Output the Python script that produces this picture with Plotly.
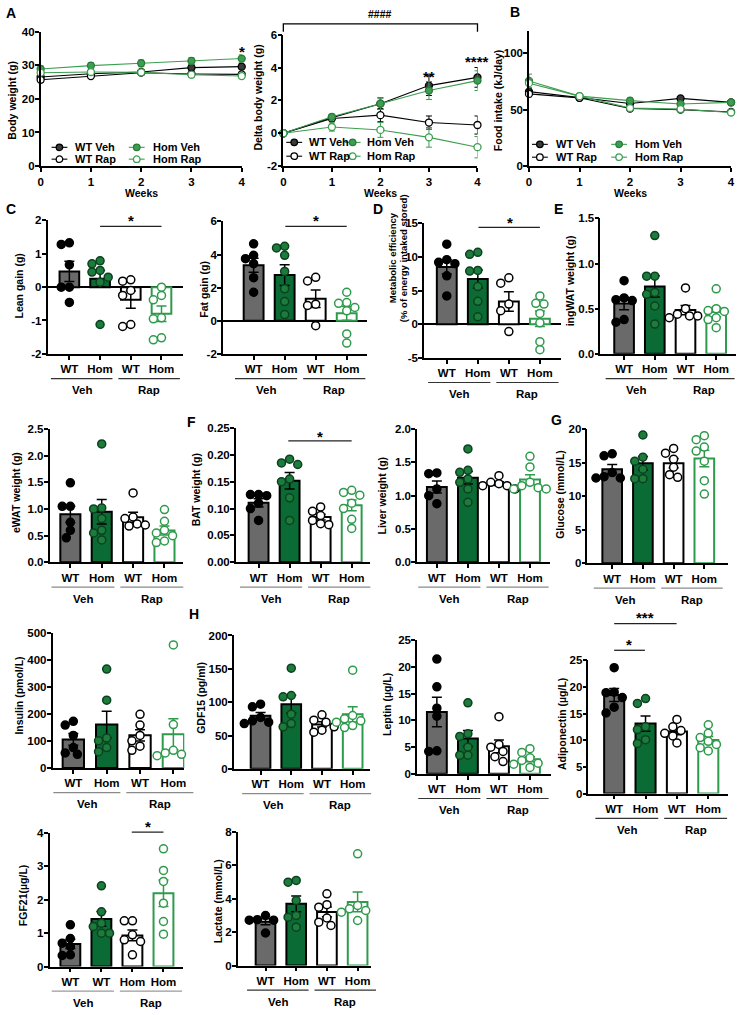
import numpy as np
import plotly.graph_objects as go

W, H = 742, 1015

# ---------------- data ----------------
weeks = [0, 1, 2, 3, 4]
line_series = ["WT Veh", "WT Rap", "Hom Veh", "Hom Rap"]

bw_wt_veh = [26.5, 27.5, 28.0, 29.3, 29.6]
bw_wt_rap = [25.7, 26.8, 27.8, 27.4, 27.3]
bw_hom_veh = [28.9, 29.9, 30.6, 31.3, 32.0]
bw_hom_rap = [27.8, 28.0, 27.9, 27.2, 26.8]
bw_wt_veh_sem = [0.8, 0.8, 0.7, 0.9, 0.9]
bw_wt_rap_sem = [0.7, 0.7, 0.7, 0.7, 0.7]
bw_hom_veh_sem = [0.9, 0.9, 1.0, 1.0, 1.1]
bw_hom_rap_sem = [0.8, 0.8, 0.8, 0.8, 0.8]

dbw_wt_veh = [0.0, 0.95, 1.8, 2.9, 3.4]
dbw_wt_rap = [0.0, 0.9, 1.1, 0.65, 0.5]
dbw_hom_veh = [0.0, 1.0, 1.8, 2.6, 3.2]
dbw_hom_rap = [0.0, 0.38, 0.2, -0.25, -0.85]
dbw_wt_veh_sem = [0.0, 0.12, 0.35, 0.6, 0.6]
dbw_wt_rap_sem = [0.0, 0.12, 0.4, 0.4, 0.55]
dbw_hom_veh_sem = [0.0, 0.15, 0.35, 0.55, 0.6]
dbw_hom_rap_sem = [0.0, 0.25, 0.45, 0.6, 0.65]

fi_wt_veh = [66.0, 60.5, 55.5, 60.0, 56.5]
fi_wt_rap = [64.0, 60.5, 51.0, 50.0, 48.0]
fi_hom_veh = [75.5, 62.0, 58.0, 55.0, 56.5]
fi_hom_rap = [73.5, 62.0, 51.5, 50.5, 47.5]
fi_wt_veh_sem = [2.5, 1.5, 2.0, 1.5, 1.5]
fi_wt_rap_sem = [2.5, 1.5, 1.5, 1.5, 1.5]
fi_hom_veh_sem = [6.0, 1.5, 2.5, 2.0, 1.5]
fi_hom_rap_sem = [4.0, 1.5, 2.0, 1.5, 1.5]

# bar groups: WT Veh, Hom Veh, WT Rap, Hom Rap
tick_labels = ["WT", "Hom", "WT", "Hom"]
tick_labels_fgf21 = ["WT", "WT", "Hom", "Hom"]
treatments = ["Veh", "Rap"]

lean_gain = [[1.28, 1.33, 0.67, 0.0, 0.0, -0.46],
             [0.79, 0.70, 0.50, 0.45, 0.30, 0.15, -1.12],
             [0.18, 0.22, -0.10, -0.25, -1.18, -1.12],
             [0.0, -0.25, -0.38, -0.92, -0.95, -1.58, -1.52]]
fat_gain = [[4.65, 3.95, 3.75, 3.45, 2.6, 1.72],
            [4.5, 4.4, 3.95, 2.98, 1.93, 1.16, 0.37],
            [2.4, 2.62, 1.0, 0.92, -0.3],
            [1.72, 1.1, 1.05, 0.8, 0.6, -0.8, -1.35]]
met_eff = [[11.9, 9.6, 9.2, 9.0, 7.2, 4.2],
           [10.7, 10.4, 8.0, 7.9, 5.6, 3.4, 1.1],
           [6.1, 6.9, 3.0, 2.0, -1.1],
           [4.2, 3.1, 3.0, 1.6, 0.2, -2.6, -3.8]]
ingwat = [[0.81, 0.62, 0.60, 0.59, 0.38, 0.35],
          [1.31, 0.86, 0.86, 0.68, 0.66, 0.53, 0.33],
          [0.73, 0.50, 0.44, 0.42, 0.40, 0.42],
          [0.72, 0.50, 0.48, 0.47, 0.40, 0.38, 0.29]]
ewat = [[1.49, 1.05, 1.05, 0.75, 0.60, 0.46],
        [2.22, 1.02, 1.00, 0.82, 0.60, 0.55, 0.42],
        [1.30, 0.85, 0.82, 0.72, 0.70, 0.68],
        [0.99, 0.77, 0.60, 0.55, 0.50, 0.40, 0.37]]
bat = [[0.126, 0.126, 0.124, 0.110, 0.100, 0.078],
       [0.192, 0.182, 0.185, 0.155, 0.150, 0.120, 0.078],
       [0.103, 0.095, 0.087, 0.078, 0.072, 0.070],
       [0.134, 0.130, 0.125, 0.110, 0.100, 0.080, 0.063]]
liver = [[1.34, 1.33, 1.10, 1.00, 0.88],
         [1.70, 1.38, 1.35, 1.25, 1.20, 1.10, 0.90],
         [1.30, 1.20, 1.18, 1.15, 1.15, 1.10],
         [1.59, 1.43, 1.20, 1.15, 1.12, 1.10, 1.10]]
glucose = [[16.3, 16.0, 13.5, 12.9, 12.7, 12.7],
           [19.1, 15.8, 15.2, 14.0, 12.6, 12.6],
           [17.1, 16.4, 15.5, 14.3, 13.2, 12.8],
           [19.0, 18.4, 17.3, 16.7, 15.2, 12.3, 10.3]]
insulin = [[172, 158, 120, 75, 55, 50],
           [365, 250, 110, 100, 75, 60],
           [198, 158, 120, 100, 80, 65],
           [454, 160, 65, 55, 50, 45, 40]]
gdf15 = [[97, 93, 77, 72, 70, 68],
         [151, 110, 108, 82, 68, 63],
         [81, 73, 70, 63, 58, 55],
         [148, 80, 75, 72, 70, 65, 62]]
leptin = [[21.5, 16.3, 12.3, 10.8, 4.2, 4.3],
          [13.3, 7.5, 7.0, 5.0, 3.5, 3.5],
          [10.7, 5.5, 5.0, 4.2, 3.2, 2.3],
          [4.7, 4.0, 3.0, 2.5, 2.0, 1.8, 1.2]]
adiponectin = [[23.6, 19.0, 18.9, 18.0, 16.2, 15.1],
               [17.8, 16.9, 12.5, 12.0, 10.1, 9.4],
               [13.9, 12.5, 11.8, 11.3, 10.8, 9.5],
               [12.9, 11.3, 10.5, 9.8, 9.2, 8.6, 8.0]]
fgf21 = [[1.25, 0.84, 0.70, 0.60, 0.33, 0.35],
         [2.42, 1.64, 1.30, 1.20, 1.00, 1.00],
         [1.37, 1.37, 0.95, 0.80, 0.75, 0.35],
         [3.53, 2.88, 2.55, 1.90, 1.35, 0.97]]
lactate = [[3.0, 2.75, 2.72, 2.72, 1.95],
           [5.1, 5.0, 3.9, 3.0, 2.9, 2.3],
           [4.3, 3.65, 3.5, 2.85, 2.6, 2.4],
           [6.7, 3.6, 3.4, 3.3, 3.2, 2.7]]

# ---------------- styles ----------------
GRAY = '#6a6a6a'
DKGREEN = '#0b6b34'
GREEN = '#2e9a4c'
LGREEN = '#3c9e50'
bar_fill = [GRAY, DKGREEN, 'white', 'white']
bar_edge = ['black', 'black', 'black', GREEN]
dot_fill = ['black', '#1c7c3c', 'white', 'white']
dot_edge = ['black', '#0d4020', 'black', GREEN]

FONT = "Liberation Sans, Arial, Helvetica, sans-serif"

def px(x):
    return x / W

def py(y):
    return 1 - y / H

traces = []
layout = dict(width=W, height=H, margin=dict(l=0, r=0, t=0, b=0, pad=0),
              paper_bgcolor='white', plot_bgcolor='white', showlegend=False,
              barmode='overlay',
              font=dict(family=FONT, size=11, color='black', weight='bold'))
annotations = []
shapes = []


def ann(x, y, text, size=11, angle=0, xanchor='center', yanchor='middle', color='black'):
    annotations.append(dict(x=px(x), y=py(y), xref='paper', yref='paper', text=text,
                            showarrow=False, textangle=angle, xanchor=xanchor,
                            yanchor=yanchor, font=dict(size=size, color=color, family=FONT, weight='bold')))


def hline(x0, x1, y, color='black', width=1.5):
    shapes.append(dict(type='line', xref='paper', yref='paper', x0=px(x0), x1=px(x1),
                       y0=py(y), y1=py(y), line=dict(color=color, width=width)))


def star(x, y, text, size=15):
    ann(x, y + 0.24 * size, text, size=size)


def axes(n, L, R, top, bot, xr, yr, xt, xtt, yt, ytt, zero=False):
    nm = '' if n == 1 else str(n)
    common = dict(showline=True, linecolor='black', linewidth=1.5, ticks='outside',
                  ticklen=4, tickwidth=1.5, tickcolor='black', showgrid=False,
                  fixedrange=True, tickfont=dict(size=11.5, family=FONT, weight='bold'))
    layout['xaxis' + nm] = dict(domain=[px(L), px(R)], range=xr, anchor='y' + nm,
                                tickvals=xt, ticktext=xtt, zeroline=False, **common)
    layout['yaxis' + nm] = dict(domain=[py(bot), py(top)], range=yr, anchor='x' + nm,
                                tickvals=yt, ticktext=ytt, zeroline=zero, ticklabelstandoff=-2,
                                zerolinecolor='black', zerolinewidth=1.5, **common)
    return 'x' + nm, 'y' + nm


# ---------------- line panels ----------------
line_styles = [
    dict(color='black', fill='#3a3a3a', edge='black'),      # WT Veh
    dict(color='black', fill='white', edge='black'),        # WT Rap
    dict(color=LGREEN, fill=LGREEN, edge='#2a7a3a'),        # Hom Veh
    dict(color=LGREEN, fill='white', edge=LGREEN),          # Hom Rap
]

line_panels = [
    dict(n=1, L=38, R=241, top=26, bot=162, yr=[0, 40], yt=[0, 10, 20, 30, 40],
         vals=[bw_wt_veh, bw_wt_rap, bw_hom_veh, bw_hom_rap],
         sems=[bw_wt_veh_sem, bw_wt_rap_sem, bw_hom_veh_sem, bw_hom_rap_sem],
         title="Body weight (g)", tx=9, ty=95,
         leg=dict(c1=57, t1=71, c2=135, t2=149, r1=143, r2=155)),
    dict(n=2, L=283, R=479, top=29, bot=162, yr=[-2, 6], yt=[-2, 0, 2, 4, 6],
         vals=[dbw_wt_veh, dbw_wt_rap, dbw_hom_veh, dbw_hom_rap],
         sems=[dbw_wt_veh_sem, dbw_wt_rap_sem, dbw_hom_veh_sem, dbw_hom_rap_sem],
         title="Delta body weight (g)", tx=257, ty=93,
         leg=dict(c1=294, t1=307, c2=353, t2=365, r1=138, r2=152)),
    dict(n=3, L=531, R=735, top=25, bot=162, yr=[0, 120], yt=[0, 50, 100],
         vals=[fi_wt_veh, fi_wt_rap, fi_hom_veh, fi_hom_rap],
         sems=[fi_wt_veh_sem, fi_wt_rap_sem, fi_hom_veh_sem, fi_hom_rap_sem],
         title="Food intake (kJ/day)", tx=500, ty=95,
         leg=dict(c1=542, t1=556, c2=622, t2=636, r1=140, r2=153)),
]

for p in line_panels:
    xa, ya = axes(p['n'], p['L'], p['R'], p['top'], p['bot'], [0, 4], p['yr'],
                  weeks, [str(w) for w in weeks], p['yt'], [str(v) for v in p['yt']])
    for i, (v, s) in enumerate(zip(p['vals'], p['sems'])):
        st = line_styles[i]
        traces.append(go.Scatter(x=weeks, y=v, mode='lines+markers', xaxis=xa, yaxis=ya,
                                 line=dict(color=st['color'], width=1.1),
                                 marker=dict(size=7, color=st['fill'], line=dict(color=st['edge'], width=1.3)),
                                 error_y=dict(type='data', array=s, color=st['color'], thickness=1, width=3),
                                 cliponaxis=False, name=line_series[i]))
    ann(p['tx'], p['ty'], p['title'], size=10.5, angle=-90)
    ann((p['L'] + p['R']) / 2, 189, "Weeks", size=10.5)
    lg = p['leg']
    pos = [(lg['c1'], lg['t1'], lg['r1']), (lg['c1'], lg['t1'], lg['r2']),
           (lg['c2'], lg['t2'], lg['r1']), (lg['c2'], lg['t2'], lg['r2'])]
    for i, (cx, tx, ry) in enumerate(pos):
        st = line_styles[i]
        hline(cx - 8, cx + 8, ry, color=st['color'], width=1.1)
        r = 3.3
        shapes.append(dict(type='circle', xref='paper', yref='paper', x0=px(cx - r), x1=px(cx + r),
                           y0=py(ry + r), y1=py(ry - r), fillcolor=st['fill'],
                           line=dict(color=st['edge'], width=1.3)))
        ann(tx, ry, line_series[i], size=11, xanchor='left')


def swarm(vals, kpx, step=8.2):
    vals = np.asarray(vals, dtype=float)
    order = np.argsort(-vals)
    placed = []
    offs = np.zeros(len(vals))
    cands = [0, -0.5, 0.5, -1, 1, -1.5, 1.5, -2, 2]
    for i in order:
        yp = vals[i] * kpx
        chosen = cands[-1] * step
        for c in cands:
            xo = c * step
            if all((xo - a) ** 2 + (yp - b) ** 2 >= (step * 0.97) ** 2 for a, b in placed):
                chosen = xo
                break
        placed.append((chosen, yp))
        offs[i] = chosen
    return offs


bar_panels = [
    dict(n=4, data=lean_gain, L=45, R=182, top=217, bot=352, c0=67, c3=160, yr=[-2, 2],
         yt=[-2, -1, 0, 1, 2], fmt='{:.0f}', title="Lean gain (g)", tx=16, ty=283, gl='#333333'),
    dict(n=5, data=fat_gain, L=222, R=367, top=218, bot=352, c0=253, c3=347, yr=[-2, 6],
         yt=[-2, 0, 2, 4, 6], fmt='{:.0f}', title="Fat gain (g)", tx=203, ty=287, gl='#333333'),
    dict(n=6, data=met_eff, L=425, R=563, top=220, bot=356, c0=448, c3=542, yr=[-5, 15],
         yt=[-5, 0, 5, 10, 15], fmt='{:.0f}',
         title=["Metabolic efficiency", "(% of energy intaked stored)"], tx=[394, 405], ty=255,
         gl='#333333', tsize=9.5),
    dict(n=7, data=ingwat, L=603, R=740, top=215, bot=352, c0=627, c3=720, yr=[0, 1.5],
         yt=[0, 0.5, 1.0, 1.5], fmt='{:.1f}', title="ingWAT weight (g)", tx=572, ty=278, gl='#333333'),
    dict(n=8, data=ewat, L=47, R=182, top=428, bot=563, c0=68, c3=163, yr=[0, 2.5],
         yt=[0, 0.5, 1.0, 1.5, 2.0, 2.5], fmt='{:.1f}', title="eWAT weight (g)", tx=13, ty=492, gl='#8a8a8a'),
    dict(n=9, data=bat, L=235, R=370, top=427, bot=563, c0=258, c3=352, yr=[0, 0.25],
         yt=[0, 0.05, 0.10, 0.15, 0.20, 0.25], fmt='{:.2f}', title="BAT weight (g)", tx=195, ty=490, gl='#8a8a8a'),
    dict(n=10, data=liver, L=418, R=552, top=428, bot=563, c0=438, c3=532, yr=[0, 2],
         yt=[0, 0.5, 1.0, 1.5, 2.0], fmt='{:.1f}', title="Liver weight (g)", tx=383, ty=495, gl='#8a8a8a'),
    dict(n=11, data=glucose, L=590, R=732, top=428, bot=564, c0=615, c3=708, yr=[0, 20],
         yt=[0, 5, 10, 15, 20], fmt='{:.0f}', title="Glucose (mmol/L)", tx=562, ty=494, gl='#8a8a8a'),
    dict(n=12, data=insulin, L=50, R=183, top=634, bot=771, c0=71, c3=172, yr=[0, 500],
         yt=[0, 100, 200, 300, 400, 500], fmt='{:.0f}', title="Insulin (pmol/L)", tx=16, ty=698, gl='#8a8a8a'),
    dict(n=13, data=gdf15, L=233, R=370, top=637, bot=772, c0=260, c3=353, yr=[0, 200],
         yt=[0, 50, 100, 150, 200], fmt='{:.0f}', title="GDF15 (pg/ml)", tx=200, ty=700, gl='#8a8a8a'),
    dict(n=14, data=leptin, L=418, R=553, top=642, bot=777, c0=438, c3=532, yr=[0, 25],
         yt=[0, 5, 10, 15, 20, 25], fmt='{:.0f}', title="Leptin (µg/L)", tx=387, ty=707, gl='#333333'),
    dict(n=15, data=adiponectin, L=591, R=732, top=662, bot=797, c0=617, c3=712, yr=[0, 25],
         yt=[0, 5, 10, 15, 20, 25], fmt='{:.0f}', title="Adiponectin (µg/L)", tx=565, ty=727, gl='#333333'),
    dict(n=16, data=fgf21, L=47, R=182, top=837, bot=972, c0=68, c3=162, yr=[0, 4],
         yt=[0, 1, 2, 3, 4], fmt='{:.0f}', title="FGF21(µg/L)", tx=21, ty=900, gl='#9a9a9a',
         labels=tick_labels_fgf21),
    dict(n=17, data=lactate, L=237, R=372, top=836, bot=971, c0=265, c3=358, yr=[0, 8],
         yt=[0, 2, 4, 6, 8], fmt='{:.0f}', title="Lactate (mmol/L)", tx=217, ty=906, gl='#333333'),
]

for p in bar_panels:
    s = (p['c3'] - p['c0']) / 3.0
    xr = [(p['L'] - p['c0']) / s, (p['R'] - p['c0']) / s]
    labels = p.get('labels', tick_labels)
    xa, ya = axes(p['n'], p['L'], p['R'], p['top'], p['bot'], xr, p['yr'],
                  [0, 1, 2, 3], labels, p['yt'], [p['fmt'].format(v) for v in p['yt']],
                  zero=p['yr'][0] < 0)
    kpx = (p['bot'] - p['top']) / (p['yr'][1] - p['yr'][0])
    for g in range(4):
        v = np.asarray(p['data'][g], dtype=float)
        m = v.mean()
        se = v.std(ddof=1) / np.sqrt(len(v))
        traces.append(go.Bar(x=[g], y=[m], width=0.64, xaxis=xa, yaxis=ya,
                             marker=dict(color=bar_fill[g], line=dict(color=bar_edge[g], width=2)),
                             error_y=dict(type='data', array=[se], color=bar_edge[g], thickness=1.5, width=5)))
    for g in range(4):
        v = np.asarray(p['data'][g], dtype=float)
        offs = swarm(v, kpx) / s
        traces.append(go.Scatter(x=g + offs, y=v, mode='markers', xaxis=xa, yaxis=ya, cliponaxis=False,
                                 marker=dict(size=8, color=dot_fill[g], line=dict(color=dot_edge[g], width=1.5))))
    if isinstance(p['title'], list):
        for t, x in zip(p['title'], p['tx']):
            ann(x, p['ty'], t, size=p.get('tsize', 10.5), angle=-90)
    else:
        ann(p['tx'], p['ty'], p['title'], size=p.get('tsize', 10.5), angle=-90)
    # group lines & treatment labels
    b = p['bot']
    c = [p['c0'] + s * i for i in range(4)]
    hline(c[0] - 0.6 * s, c[1] + 0.5 * s - 3, b + 25, color=p['gl'], width=1.2)
    hline(c[2] - 0.5 * s + 3, c[3] + 0.6 * s, b + 25, color=p['gl'], width=1.2)
    ann((c[0] - 0.6 * s + c[1] + 0.5 * s - 3) / 2, b + 37, treatments[0], size=11.5)
    ann((c[2] - 0.5 * s + 3 + c[3] + 0.6 * s) / 2, b + 37, treatments[1], size=11.5)

# ---------------- significance ----------------
star(241, 42, "*")
star(430, 68, "**")
star(479, 53, "****")
ann(381, 8, "####", size=10.5)
shapes.append(dict(type='path', xref='paper', yref='paper',
                   path=f"M {px(283)},{py(26)} L {px(283)},{py(18)} L {px(479)},{py(18)} L {px(479)},{py(26)}",
                   line=dict(color='black', width=1.3)))

sig_lines = [(98, 160, 223), (285, 347, 223), (480, 542, 224), (288, 352, 440),
             (617, 680, 625), (617, 648, 652), (130, 162, 836)]
for x0, x1, y in sig_lines:
    hline(x0, x1, y, color='#222222', width=1.3)
star(129, 213, "*")
star(316, 213, "*")
star(512, 215, "*")
star(320, 432, "*")
star(648, 615, "***")
star(632, 643, "*")
star(146, 827, "*")

# ---------------- panel letters ----------------
for letter, x, y in [("A", 1, 7), ("B", 510, 6), ("C", 1, 205), ("D", 371, 205),
                     ("E", 554, 205), ("F", 184, 421), ("G", 551, 419), ("H", 186, 615)]:
    ann(x, y, letter, size=14, xanchor='left')

layout['annotations'] = annotations
layout['shapes'] = shapes
fig = go.Figure(data=traces, layout=layout)
fig.write_html("out.html")
